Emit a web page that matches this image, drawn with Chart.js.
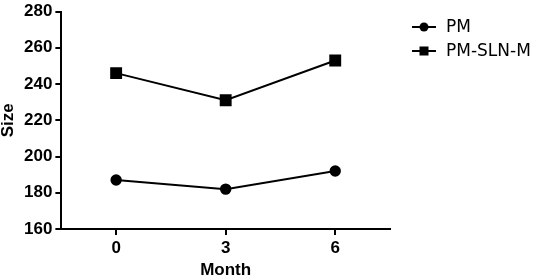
<!DOCTYPE html>
<html>
<head>
<meta charset="utf-8">
<script src="https://cdn.jsdelivr.net/npm/chart.js@4"></script>
<style>
  html, body { margin: 0; padding: 0; background: #fff; }
  #wrap { width: 536px; height: 279px; }
</style>
</head>
<body>
<div id="wrap"><canvas id="sizeChart"></canvas></div>
<script>
  // data
  const months = [0, 3, 6];
  const pmValues = [187, 182, 192];
  const slnValues = [246, 231, 253];
  const yTicks = [160, 180, 200, 220, 240, 260, 280];

  const tickFont = { family: 'Liberation Sans', size: 17, weight: 'bold', lineHeight: 1 };
  const titleFont = { family: 'Liberation Sans', size: 17, weight: 'bold', lineHeight: 1 };

  // legend drawn beside the plot: line + marker, then the label
  const sideLegend = {
    id: 'sideLegend',
    afterDraw(chart) {
      const g = chart.ctx;
      const left = chart.chartArea.right + 22;
      g.save();
      g.fillStyle = '#000';
      g.font = '17px "DejaVu Sans"';
      g.textBaseline = 'middle';
      chart.data.datasets.forEach((ds, i) => {
        const y = 27 + i * 24;
        g.fillRect(left, y - 1, 24, 2);
        if (ds.pointStyle === 'circle') {
          g.beginPath(); g.arc(left + 12, y, 4.5, 0, Math.PI * 2); g.fill();
        } else {
          g.fillRect(left + 7.5, y - 4.5, 9, 9);
        }
        g.fillText(ds.label, left + 34, y + 1);
      });
      g.restore();
    }
  };

  const ctx = document.getElementById('sizeChart').getContext('2d');
  new Chart(ctx, {
    type: 'line',
    data: {
      datasets: [
        {
          label: 'PM',
          data: months.map((m, i) => ({ x: m, y: pmValues[i] })),
          borderColor: '#000',
          backgroundColor: '#000',
          borderWidth: 2,
          pointStyle: 'circle',
          pointRadius: 4.7,
          pointHoverRadius: 4.7
        },
        {
          label: 'PM-SLN-M',
          data: months.map((m, i) => ({ x: m, y: slnValues[i] })),
          borderColor: '#000',
          backgroundColor: '#000',
          borderWidth: 2,
          pointStyle: 'rect',
          pointRadius: 7,
          pointHoverRadius: 7
        }
      ]
    },
    options: {
      responsive: true,
      maintainAspectRatio: false,
      animation: false,
      layout: { padding: { left: 0, top: 0, right: 146, bottom: 0 } },
      plugins: {
        tooltip: { enabled: false },
        legend: { display: false }
      },
      scales: {
        x: {
          type: 'linear',
          min: -1.5,
          max: 7.5,
          afterBuildTicks: (axis) => { axis.ticks = months.map(v => ({ value: v })); },
          border: { color: '#000', width: 2 },
          grid: { drawOnChartArea: false, color: '#000', tickLength: 6, lineWidth: 2 },
          ticks: { color: '#000', font: tickFont, padding: 5 },
          title: {
            display: true,
            text: 'Month',
            color: '#000',
            font: titleFont,
            padding: { top: 0, bottom: 0 }
          }
        },
        y: {
          min: 160,
          max: 280,
          afterBuildTicks: (axis) => { axis.ticks = yTicks.map(v => ({ value: v })); },
          border: { color: '#000', width: 2 },
          grid: { drawOnChartArea: false, color: '#000', tickLength: 6, lineWidth: 2 },
          ticks: { color: '#000', font: tickFont, padding: 3 },
          title: {
            display: true,
            text: 'Size',
            color: '#000',
            font: titleFont,
            padding: { top: 0, bottom: 4 }
          }
        }
      }
    },
    plugins: [sideLegend]
  });
</script>
</body>
</html>
